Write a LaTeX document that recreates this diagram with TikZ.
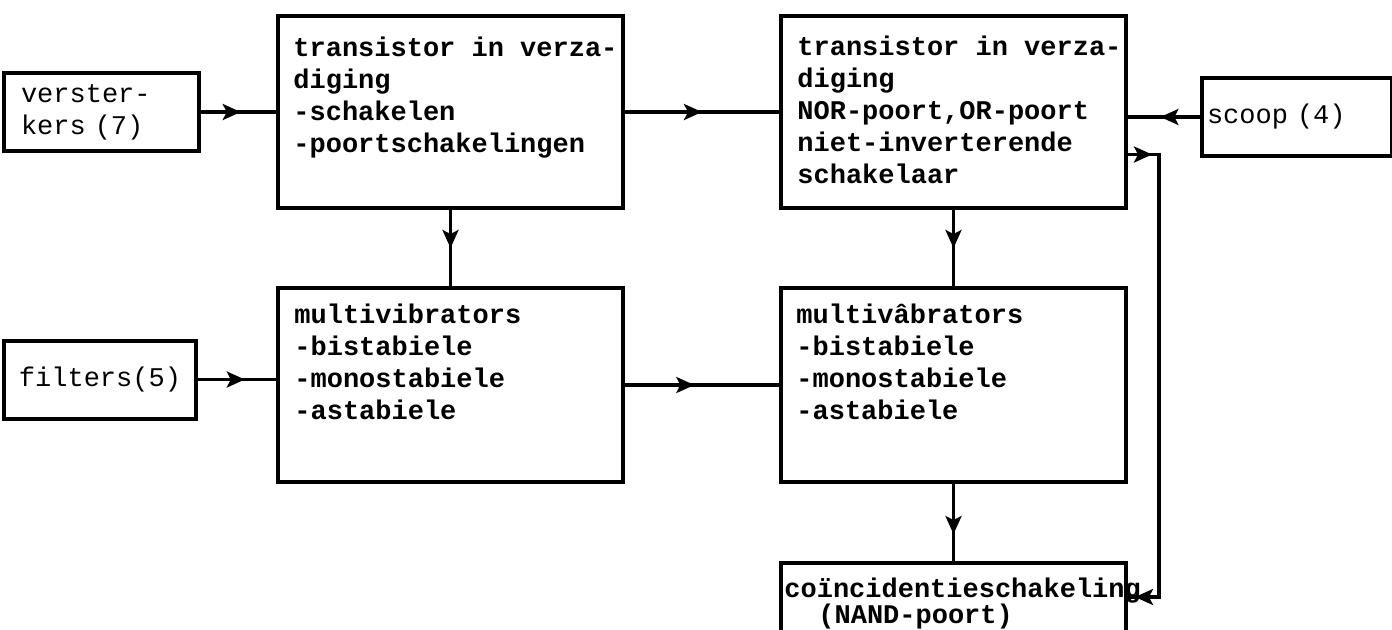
\documentclass[tikz,border=0pt]{standalone}
\usepackage{fontspec}
\setmonofont{Liberation Mono}
\usetikzlibrary{arrows.meta,positioning,decorations.markings}
\tikzset{
  tw/.style={font=\ttfamily\bfseries\fontsize{13.5}{16}\selectfont},
  blok/.style={draw=black, line width=2pt, inner sep=0pt},
  klein/.style={blok, font=\ttfamily\fontsize{13.5}{16}\selectfont, align=left, minimum height=39pt},
  tekst/.style={tw, align=left, inner sep=0pt, anchor=north west},
  lijn/.style={line width=1.6pt, draw=black},
  kop/.tip={Stealth[length=9pt,width=8pt,inset=2pt]},
  pijl/.style={lijn, decoration={markings, mark=at position #1 with {\arrow{kop}}}, postaction={decorate}},
  pijl/.default=0.55,
}
\begin{document}
\begin{tikzpicture}[x=0.5pt,y=-0.5pt]
\clip (0,0) rectangle (1392,629);
% bovenste rij
\node[blok, minimum width=172.5pt, minimum height=96pt] (A) at (450.5,112) {};
\node[blok, minimum width=172.5pt, minimum height=96pt, right=77pt of A] (B) {};
\node[klein, text width=80.5pt, inner xsep=8.5pt, left=37.5pt of A] (vers) {verster-\\kers (7)};
\node[klein, text width=90pt, inner xsep=2.5pt, right=36pt of B, yshift=-2.5pt] (scoop) {scoop (4)};
% onderste rij
\node[blok, minimum width=172.5pt, minimum height=97pt, below=38pt of A] (C) {};
\node[blok, minimum width=172.5pt, minimum height=97pt, right=77pt of C] (D) {};
\node[blok, minimum width=172.5pt, minimum height=44pt, below=38.5pt of D] (E) {};
\node[klein, align=center, minimum width=96pt, left=39pt of C, yshift=2.75pt] (filt) {filters(5)};
% teksten
\node[tekst] (tA) at ([shift={(8.5pt,-11.5pt)}]A.north west) {transistor in verza-\\diging\\-schakelen\\-poortschakelingen};
\node[tekst] (tB) at ([shift={(9pt,-11pt)}]B.north west) {transistor in verza-\\diging\\NOR-poort,OR-poort\\niet-inverterende\\schakelaar};
\node[tekst] (tC) at ([shift={(9pt,-9pt)}]C.north west) {multivibrators\\-bistabiele\\-monostabiele\\-astabiele};
\node[tekst] (tD) at ([shift={(8.5pt,-9pt)}]D.north west) {multiv\^{a}brators\\-bistabiele\\-monostabiele\\-astabiele};
\node[tekst, font=\ttfamily\bfseries\fontsize{13.5}{13}\selectfont] (tE) at ([shift={(2.5pt,-8.5pt)}]E.north west) {co\"{\i}ncidentieschakeling\\\hspace*{17pt}(NAND-poort)};
% verbindingen
\draw[pijl=0.53] (vers.east) -- (vers.east -| A.west);
\draw[pijl=0.6] (filt.east) -- (filt.east -| C.west);
\draw[pijl=0.5] (A) -- (B);
\draw[pijl=0.45] (C) -- (D);
\draw[pijl=0.5] (A) -- (C);
\draw[pijl=0.5] (B) -- (D);
\draw[pijl=0.65] (D) -- (E);
\draw[pijl=0.55] (scoop.west) -- (scoop.west -| B.east);
\coordinate (hoek) at ([xshift=15.5pt,yshift=-21.25pt]B.east);
\draw[lijn, decoration={markings, mark=at position 12pt with {\arrow{kop}}, mark=at position -3.5pt with {\arrow{kop}}}, postaction={decorate}]
  ([yshift=-21.25pt]B.east) -- (hoek) |- ([yshift=5pt]E.east);
\end{tikzpicture}
\end{document}
